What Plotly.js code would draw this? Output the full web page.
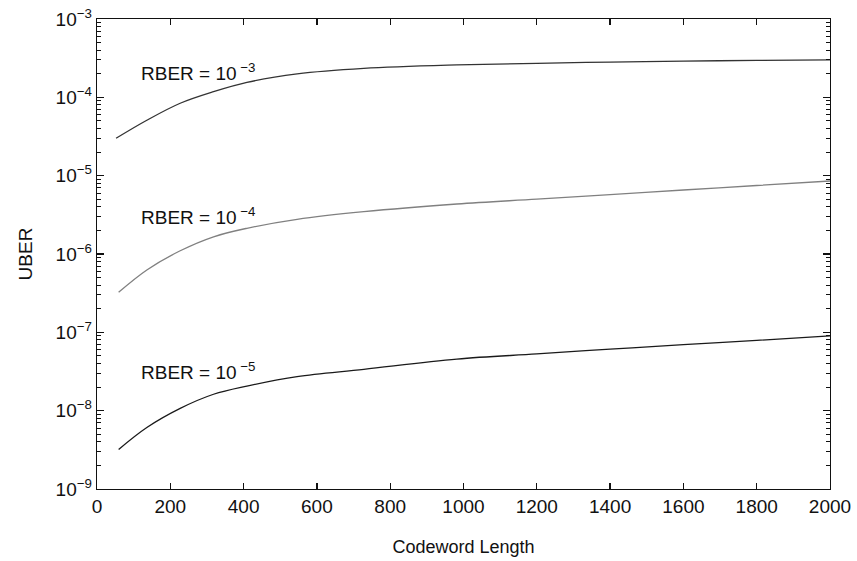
<!DOCTYPE html>
<html>
<head>
<meta charset="utf-8">
<script src="https://cdn.plot.ly/plotly-3.0.1.min.js"></script>
<style>html,body{margin:0;padding:0;background:#fff;}#chart{width:857px;height:561px;}</style>
</head>
<body>
<div id="chart"></div>
<script>
// Data
const codewordLength = [52, 136, 227, 318, 409, 546, 728, 982, 1200, 1400, 1600, 1800, 2000];
const uberRber3 = [3.0e-5, 5.1e-5, 8.4e-5, 1.18e-4, 1.55e-4, 1.99e-4, 2.34e-4, 2.59e-4, 2.72e-4, 2.82e-4, 2.9e-4, 2.96e-4, 3.0e-4];
const codewordLength4 = [59, 136, 227, 318, 409, 546, 728, 982, 1200, 1400, 1600, 1800, 2000];
const uberRber4 = [3.24e-7, 6.25e-7, 1.10e-6, 1.66e-6, 2.13e-6, 2.77e-6, 3.47e-6, 4.35e-6, 5.02e-6, 5.74e-6, 6.56e-6, 7.49e-6, 8.55e-6];
const codewordLength5 = [59, 136, 227, 318, 409, 546, 728, 982, 1200, 1400, 1600, 1800, 2000];
const uberRber5 = [3.2e-9, 6.1e-9, 1.07e-8, 1.62e-8, 2.06e-8, 2.72e-8, 3.37e-8, 4.56e-8, 5.3e-8, 6.1e-8, 6.95e-8, 7.9e-8, 9.0e-8];

const seriesLabels = ["RBER = 10<sup> \u22123</sup>", "RBER = 10<sup> \u22124</sup>", "RBER = 10<sup> \u22125</sup>"];
const labelX = [115, 115, 115];
const labelY = [2.1e-4, 3.05e-6, 3.2e-8];

const xTickVals = [0, 200, 400, 600, 800, 1000, 1200, 1400, 1600, 1800, 2000];
const yTickVals = [1e-9, 1e-8, 1e-7, 1e-6, 1e-5, 1e-4, 1e-3];
const yTickText = ["10<sup>\u22129</sup>", "10<sup>\u22128</sup>", "10<sup>\u22127</sup>", "10<sup>\u22126</sup>", "10<sup>\u22125</sup>", "10<sup>\u22124</sup>", "10<sup>\u22123</sup>"];

const font = "Liberation Sans, Arial, Helvetica, sans-serif";
const fs = 19;

const traces = [
  {x: codewordLength, y: uberRber3, mode: "lines", line: {color: "#333333", width: 1.3, shape: "spline", smoothing: 1}},
  {x: codewordLength4, y: uberRber4, mode: "lines", line: {color: "#808080", width: 1.3, shape: "spline", smoothing: 1}},
  {x: codewordLength5, y: uberRber5, mode: "lines", line: {color: "#1a1a1a", width: 1.3, shape: "spline", smoothing: 1}}
];

const annotations = seriesLabels.map((t, i) => ({
  x: labelX[i], y: Math.log10(labelY[i]), xref: "x", yref: "y",
  text: t, showarrow: false, xanchor: "left", yanchor: "middle",
  font: {family: font, size: fs, color: "#111"}
}));

const layout = {
  width: 857, height: 561,
  margin: {l: 97, r: 27, t: 19, b: 72},
  paper_bgcolor: "#fff", plot_bgcolor: "#fff",
  showlegend: false,
  font: {family: font, size: fs, color: "#111"},
  xaxis: {
    range: [0, 2000], tickvals: xTickVals, ticktext: xTickVals.map(String),
    ticks: "inside", ticklen: 6, tickwidth: 1.3, tickcolor: "#111",
    showline: true, linecolor: "#111", linewidth: 1.3, mirror: "ticks",
    showgrid: false, zeroline: false,
    tickfont: {family: font, size: fs, color: "#111"},
    title: {text: "Codeword Length", font: {family: font, size: 18, color: "#111"}, standoff: 24}
  },
  yaxis: {
    type: "log", range: [-9, -3], tickvals: yTickVals, ticktext: yTickText,
    ticks: "inside", ticklen: 7, tickwidth: 1.3, tickcolor: "#111",
    minor: {ticks: "inside", ticklen: 4, tickwidth: 1, tickcolor: "#111", dtick: "D1", showgrid: false},
    showline: true, linecolor: "#111", linewidth: 1.3, mirror: "ticks",
    showgrid: false, zeroline: false,
    tickfont: {family: font, size: fs, color: "#111"},
    title: {text: "UBER", font: {family: font, size: 19, color: "#111"}, standoff: 18}
  },
  annotations: annotations
};

Plotly.newPlot("chart", traces, layout, {staticPlot: true, displayModeBar: false});
</script>
</body>
</html>
